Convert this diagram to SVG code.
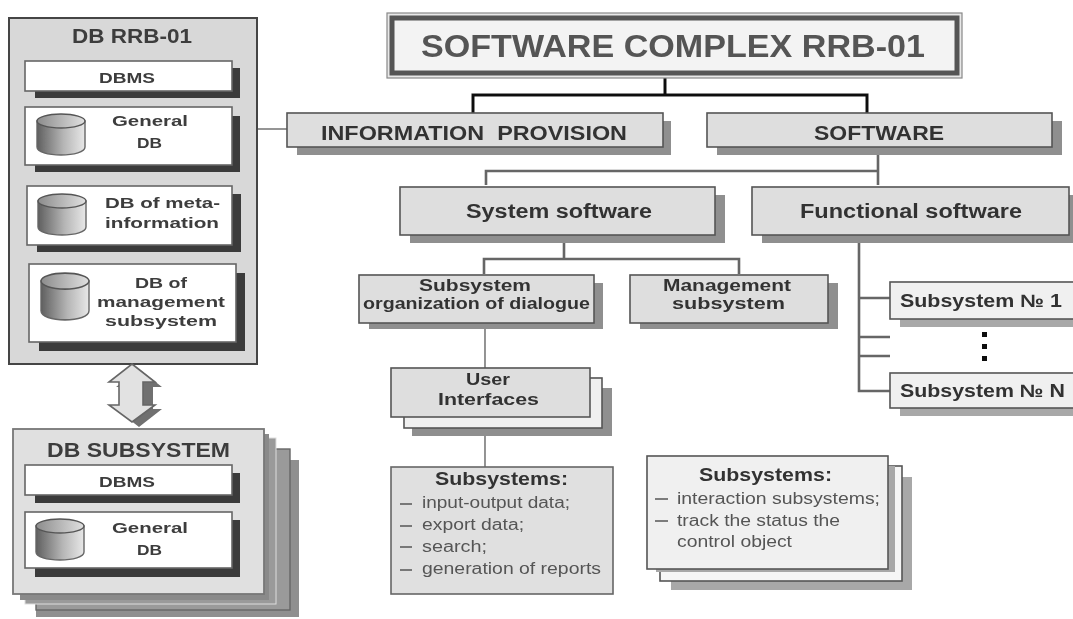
<svg xmlns="http://www.w3.org/2000/svg" xmlns:xlink="http://www.w3.org/1999/xlink" width="1073" height="619" viewBox="0 0 1073 619">
<style>
text{font-family:"Liberation Sans",Arial,sans-serif;fill:#3c3c3c;font-weight:bold;text-anchor:start}
.dk{fill:#3a3a3a}
.sh{fill:#8f8f8f}
.sh2{fill:#a8a8a8}
.g{fill:#dedede;stroke:#555;stroke-width:1.6}
.g2{fill:#d8d8d8;stroke:#444;stroke-width:2}
.l{fill:#f0f0f0;stroke:#555;stroke-width:1.6}
.w{fill:#fff;stroke:#666;stroke-width:1.6}
.c1{fill:none;stroke:#111;stroke-width:3}
.c2{fill:none;stroke:#666;stroke-width:2.6}
.c3{fill:none;stroke:#666;stroke-width:1.4}
.t15{font-size:15px}.t16{font-size:16px}.t18{font-size:18px}.t20{font-size:20px}.t21{font-size:21px}
.n{font-weight:normal;font-size:16px;fill:#555}
.h{font-size:18px;fill:#333}
.d{stroke:#555;stroke-width:1.6}
.dark{fill:#333}
</style>
<defs>
<linearGradient id="cyl" x1="0" x2="1" y1="0" y2="0"><stop offset="0" stop-color="#5f5f5f"/><stop offset="0.55" stop-color="#b5b5b5"/><stop offset="1" stop-color="#e8e8e8"/></linearGradient>
<linearGradient id="cylTop" x1="0" x2="1" y1="0" y2="0"><stop offset="0" stop-color="#8c8c8c"/><stop offset="1" stop-color="#e0e0e0"/></linearGradient>
<g id="cylinder">
<path d="M0 8V34C0 39 11 42 24 42S48 39 48 34V8Z" fill="url(#cyl)" stroke="#666" stroke-width="1.4"/>
<ellipse cx="24" cy="8" rx="24" ry="7" fill="url(#cylTop)" stroke="#555" stroke-width="1.4"/>
</g>
<filter id="soft" x="0" y="0" width="1073" height="619" filterUnits="userSpaceOnUse"><feGaussianBlur stdDeviation="0.55"/></filter>
</defs>
<rect width="1073" height="619" fill="#fff"/>
<g filter="url(#soft)">
<g id="connectors">
<path class="c1" d="M665 78V95M473 113V95H867V113"/>
<path class="c2" d="M878 155V185M486 185V171H878"/>
<path class="c2" d="M564 243V259M484 274V259H739V274"/>
<path class="c2" d="M859 235V391H890M859 298H890M859 337H890M859 356H890"/>
<path class="c3" d="M257 129H287"/>
<path class="c3" d="M485 329V368"/>
<path class="c3" d="M485 436V467"/>
</g>
<g id="db-rrb-01">
<rect x="9" y="18" width="248" height="346" class="g2"/>
<text x="72" y="43" class="t20" textLength="120" lengthAdjust="spacingAndGlyphs">DB RRB-01</text>
<g id="db-rrb-dbms">
<rect x="35" y="68" width="205" height="30" class="dk"/>
<rect x="25" y="61" width="207" height="30" class="w"/>
<text x="99" y="83" class="t15" textLength="56" lengthAdjust="spacingAndGlyphs">DBMS</text>
</g>
<g id="db-rrb-general">
<rect x="35" y="116" width="205" height="56" class="dk"/>
<rect x="25" y="107" width="207" height="58" class="w"/>
<use xlink:href="#cylinder" href="#cylinder" x="37" y="113"/>
<text x="112" y="126" class="t15" textLength="76" lengthAdjust="spacingAndGlyphs">General</text>
<text x="137" y="148" class="t15" textLength="25" lengthAdjust="spacingAndGlyphs">DB</text>
</g>
<g id="db-rrb-meta">
<rect x="37" y="194" width="204" height="58" class="dk"/>
<rect x="27" y="186" width="205" height="59" class="w"/>
<use xlink:href="#cylinder" href="#cylinder" x="38" y="193"/>
<text x="105" y="208" class="t15" textLength="115" lengthAdjust="spacingAndGlyphs">DB of meta-</text>
<text x="105" y="228" class="t15" textLength="114" lengthAdjust="spacingAndGlyphs">information</text>
</g>
<g id="db-rrb-management">
<rect x="39" y="273" width="206" height="78" class="dk"/>
<rect x="29" y="264" width="207" height="78" class="w"/>
<use xlink:href="#cylinder" href="#cylinder" transform="translate(41 272) scale(1 1.14)"/>
<text x="135" y="288" class="t15" textLength="52" lengthAdjust="spacingAndGlyphs">DB of</text>
<text x="97" y="307" class="t15" textLength="128" lengthAdjust="spacingAndGlyphs">management</text>
<text x="105" y="326" class="t15" textLength="112" lengthAdjust="spacingAndGlyphs">subsystem</text>
</g>
</g>
<g id="double-arrow">
<path d="M139 369L162 387H153V409H162L139 427L116 409H126V387H116Z" fill="#6f6f6f"/>
<path d="M132 364L155 382H143V405H155L132 422L109 405H119V382H109Z" fill="#e2e2e2" stroke="#666" stroke-width="1.6"/>
</g>
<g id="db-subsystem">
<rect x="36" y="460" width="263" height="157" class="sh"/>
<rect x="36" y="449" width="254" height="161" fill="#9a9a9a" stroke="#666" stroke-width="1.4"/>
<rect x="25" y="438" width="251" height="166" fill="#9a9a9a" stroke="#ddd"/>
<rect x="20" y="434" width="249" height="166" fill="#8a8a8a"/>
<rect x="13" y="429" width="251" height="165" fill="#e0e0e0" stroke="#777" stroke-width="1.8"/>
<text x="47" y="457" class="t20" textLength="183" lengthAdjust="spacingAndGlyphs">DB SUBSYSTEM</text>
<g id="db-subsystem-dbms">
<rect x="35" y="473" width="205" height="30" class="dk"/>
<rect x="25" y="465" width="207" height="30" class="w"/>
<text x="99" y="487" class="t15" textLength="56" lengthAdjust="spacingAndGlyphs">DBMS</text>
</g>
<g id="db-subsystem-general">
<rect x="35" y="520" width="205" height="57" class="dk"/>
<rect x="25" y="512" width="207" height="56" class="w"/>
<use xlink:href="#cylinder" href="#cylinder" x="36" y="518"/>
<text x="112" y="533" class="t15" textLength="76" lengthAdjust="spacingAndGlyphs">General</text>
<text x="137" y="555" class="t15" textLength="25" lengthAdjust="spacingAndGlyphs">DB</text>
</g>
</g>
<g id="software-complex">
<rect x="387" y="13" width="575" height="65" fill="#e8e8e8" stroke="#888" stroke-width="1.2"/>
<rect x="392" y="18" width="565" height="55" fill="#f3f3f3" stroke="#555" stroke-width="5"/>
<text x="421" y="57" font-size="32" style="fill:#555" textLength="504" lengthAdjust="spacingAndGlyphs">SOFTWARE COMPLEX RRB-01</text>
</g>
<g id="information-provision">
<rect x="297" y="121" width="374" height="34" class="sh"/>
<rect x="287" y="113" width="376" height="34" class="g"/>
<text x="321" y="140" class="t21 dark" style="white-space:pre" textLength="306" lengthAdjust="spacingAndGlyphs">INFORMATION  PROVISION</text>
</g>
<g id="software">
<rect x="717" y="121" width="345" height="34" class="sh"/>
<rect x="707" y="113" width="345" height="34" class="g"/>
<text x="814" y="140" class="t21 dark" textLength="130" lengthAdjust="spacingAndGlyphs">SOFTWARE</text>
</g>
<g id="system-software">
<rect x="410" y="195" width="315" height="48" class="sh"/>
<rect x="400" y="187" width="315" height="48" class="g"/>
<text x="466" y="218" class="t20 dark" textLength="186" lengthAdjust="spacingAndGlyphs">System software</text>
</g>
<g id="functional-software">
<rect x="762" y="195" width="311" height="48" class="sh"/>
<rect x="752" y="187" width="317" height="48" class="g"/>
<text x="800" y="218" class="t20 dark" textLength="222" lengthAdjust="spacingAndGlyphs">Functional software</text>
</g>
<g id="subsystem-dialogue">
<rect x="369" y="283" width="234" height="46" class="sh"/>
<rect x="359" y="275" width="235" height="48" class="g"/>
<text x="419" y="291" class="t16 dark" textLength="112" lengthAdjust="spacingAndGlyphs">Subsystem</text>
<text x="363" y="309" class="t16 dark" textLength="227" lengthAdjust="spacingAndGlyphs">organization of dialogue</text>
</g>
<g id="management-subsystem">
<rect x="640" y="283" width="198" height="46" class="sh"/>
<rect x="630" y="275" width="198" height="48" class="g"/>
<text x="663" y="291" class="t16 dark" textLength="128" lengthAdjust="spacingAndGlyphs">Management</text>
<text x="672" y="309" class="t16 dark" textLength="113" lengthAdjust="spacingAndGlyphs">subsystem</text>
</g>
<g id="user-interfaces">
<rect x="412" y="388" width="200" height="48" class="sh"/>
<rect x="404" y="378" width="198" height="50" fill="#f0f0f0" stroke="#555" stroke-width="1.6"/>
<rect x="391" y="368" width="199" height="49" class="g"/>
<text x="466" y="385" class="t16 dark" textLength="44" lengthAdjust="spacingAndGlyphs">User</text>
<text x="438" y="405" class="t16 dark" textLength="101" lengthAdjust="spacingAndGlyphs">Interfaces</text>
</g>
<g id="subsystem-1">
<rect x="900" y="290" width="173" height="37" class="sh2"/>
<rect x="890" y="282" width="190" height="37" class="l"/>
<text x="900" y="307" class="t18 dark" textLength="162" lengthAdjust="spacingAndGlyphs">Subsystem № 1</text>
</g>
<g id="dots" fill="#111">
<rect x="982" y="332" width="5" height="5"/><rect x="982" y="344" width="5" height="5"/><rect x="982" y="356" width="5" height="5"/>
</g>
<g id="subsystem-n">
<rect x="900" y="381" width="173" height="35" class="sh2"/>
<rect x="890" y="373" width="190" height="35" class="l"/>
<text x="900" y="397" class="t18 dark" textLength="165" lengthAdjust="spacingAndGlyphs">Subsystem № N</text>
</g>
<g id="subsystems-left">
<rect x="391" y="467" width="222" height="127" fill="#e0e0e0" stroke="#666" stroke-width="1.6"/>
<text x="435" y="485" class="h" textLength="133" lengthAdjust="spacingAndGlyphs">Subsystems:</text>
<path class="d" d="M400 504H412M400 526H412M400 547H412M400 570H412"/>
<text x="422" y="508" class="n" textLength="148" lengthAdjust="spacingAndGlyphs">input-output data;</text>
<text x="422" y="530" class="n" textLength="102" lengthAdjust="spacingAndGlyphs">export data;</text>
<text x="422" y="552" class="n" textLength="65" lengthAdjust="spacingAndGlyphs">search;</text>
<text x="422" y="574" class="n" textLength="179" lengthAdjust="spacingAndGlyphs">generation of reports</text>
</g>
<g id="subsystems-right">
<rect x="671" y="477" width="241" height="113" class="sh2"/>
<rect x="660" y="466" width="242" height="115" fill="#f6f6f6" stroke="#555" stroke-width="1.6"/>
<rect x="656" y="466" width="239" height="106" class="sh2"/>
<rect x="647" y="456" width="241" height="113" class="l"/>
<text x="699" y="481" class="h" textLength="133" lengthAdjust="spacingAndGlyphs">Subsystems:</text>
<path class="d" d="M655 499H668M655 521H668"/>
<text x="677" y="504" class="n" textLength="203" lengthAdjust="spacingAndGlyphs">interaction subsystems;</text>
<text x="677" y="526" class="n" textLength="163" lengthAdjust="spacingAndGlyphs">track the status the</text>
<text x="677" y="547" class="n" textLength="115" lengthAdjust="spacingAndGlyphs">control object</text>
</g>
</g>
</svg>
